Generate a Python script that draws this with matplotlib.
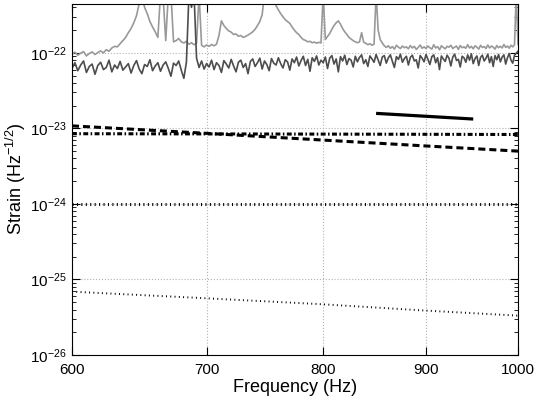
import numpy as np
import matplotlib
matplotlib.use('Agg')
import matplotlib.pyplot as plt
from matplotlib.ticker import NullLocator, FixedLocator, NullFormatter

plt.rcParams['font.family'] = ['Liberation Sans', 'DejaVu Sans']
plt.rcParams['mathtext.fontset'] = 'custom'
plt.rcParams['mathtext.rm'] = 'Liberation Sans'
plt.rcParams['mathtext.it'] = 'Liberation Sans:italic'
plt.rcParams['mathtext.bf'] = 'Liberation Sans:bold'

# frequency grid of the measured spectra (Hz)
freq = np.arange(600, 1001, 2)

# measured spectrum, dark trace (units of 1e-23 Hz^-1/2)
dark = [
    6.2, 7.4, 5.8, 6.9, 7.8, 5.5, 6.6, 7.1, 5.2, 6.8,
    7.5, 6.0, 6.4, 8.0, 5.6, 6.9, 6.2, 7.7, 5.9, 6.5,
    7.2, 5.4, 6.8, 7.9, 6.1, 5.3, 7.0, 6.6, 8.1, 5.8,
    6.7, 7.4, 5.7, 6.9, 7.6, 6.2, 4.9, 7.3, 6.8, 7.8,
    5.9, 4.6, 7.5, 60.0, 40.0, 60.0, 8.5, 6.4, 7.8, 6.1,
    7.2, 6.5, 8.0, 6.0, 7.4, 6.8, 5.5, 7.9, 7.1, 6.3,
    8.2, 6.7, 5.6, 7.5, 8.0, 6.4, 7.2, 5.3, 7.7, 8.3,
    6.6, 7.4, 8.5, 6.1, 7.8, 7.0, 5.8, 8.4, 7.3, 6.9,
    8.6, 7.2, 6.3, 8.1, 7.6, 5.9, 8.3, 7.4, 8.8, 6.7,
    7.9, 9.0, 6.8, 8.2, 5.7, 8.6, 7.7, 9.1, 6.9, 8.0,
    7.4, 8.8, 6.2, 8.5, 9.2, 7.1, 8.3, 5.6, 8.9, 7.8,
    9.3, 7.0, 8.4, 8.0, 6.5, 9.0, 7.6, 8.7, 9.4, 7.2,
    8.1, 6.6, 9.1, 8.3, 7.5, 9.5, 8.0, 6.8, 8.8, 9.2,
    7.3, 8.6, 9.4, 7.7, 6.4, 8.9, 8.2, 9.6, 7.5, 8.4,
    9.0, 6.9, 8.7, 9.3, 7.8, 8.1, 6.3, 9.2, 8.5, 7.6,
    9.5, 8.2, 7.0, 8.9, 9.4, 7.4, 8.6, 6.0, 9.1, 8.3,
    7.7, 9.3, 8.5, 6.7, 8.8, 9.6, 7.9, 8.2, 6.5, 9.0,
    8.6, 7.5, 9.4, 8.0, 9.7, 7.2, 8.4, 9.1, 6.8, 8.7,
    9.3, 7.8, 8.5, 9.6, 7.4, 8.9, 6.6, 9.2, 8.1, 9.5,
    7.6, 8.8, 9.4, 7.1, 8.6, 9.8, 8.0, 7.3, 9.3, 9.9,
    10.5,
]

# measured spectrum, light trace (units of 1e-23 Hz^-1/2)
light = [
    9.6, 10.2, 9.3, 9.9, 10.4, 9.1, 9.8, 10.3, 9.5, 10.1,
    10.6, 10.0, 11.0, 10.5, 11.6, 12.2, 12.0, 13.2, 14.5, 16.0,
    18.5, 21.0, 25.0, 31.0, 45.0, 60.0, 40.0, 33.0, 26.0, 22.0,
    19.0, 16.0, 60.0, 55.0, 14.5, 60.0, 60.0, 14.0, 14.5, 15.5,
    14.0, 13.5, 14.2, 13.0, 13.6, 12.8, 13.4, 60.0, 12.6, 12.0,
    12.7, 12.2, 12.9, 12.4, 13.0, 17.0, 26.5, 23.0, 21.0, 19.5,
    18.8, 17.5, 17.8, 16.6, 17.0, 16.0, 16.5, 17.2, 18.0, 19.0,
    20.5, 23.0, 26.0, 32.0, 60.0, 60.0, 60.0, 60.0, 50.0, 42.0,
    37.0, 33.0, 30.0, 27.5, 26.0, 24.5, 22.0, 20.0, 18.5, 17.5,
    16.0, 15.0, 14.6, 14.0, 14.2, 13.6, 13.9, 13.4, 13.8, 13.5,
    60.0, 15.0, 16.5, 18.0, 20.5, 23.0, 25.0, 26.5, 24.0, 21.0,
    19.0, 17.5, 16.0, 15.2, 14.5, 14.0, 13.6, 14.0, 18.5, 13.8,
    13.4, 12.8, 13.2, 12.6, 13.0, 60.0, 20.0, 15.0, 13.5, 12.4,
    11.8, 12.4, 11.5, 12.1, 11.2, 12.6, 11.9, 11.4, 12.3, 11.7,
    12.0, 11.3, 12.5, 11.6, 12.2, 11.1, 11.8, 12.7, 11.5, 12.0,
    11.4, 12.3, 11.7, 11.2, 12.8, 11.6, 12.1, 11.0, 12.4, 11.8,
    11.3, 12.2, 11.9, 12.6, 11.4, 11.9, 12.3, 11.1, 12.5, 11.7,
    12.0, 11.5, 12.8, 11.6, 12.2, 11.3, 12.4, 11.9, 11.2, 12.6,
    11.8, 12.1, 11.4, 12.7, 11.6, 12.3, 11.9, 11.2, 12.5, 11.7,
    12.2, 11.6, 12.9, 11.8, 12.3, 11.5, 12.6, 12.0, 12.8, 60.0,
    13.0,
]

# model curves
f_model = [600, 700, 800, 900, 1000]
dashed_curve = [1.08e-23, 8.6e-24, 7.0e-24, 5.85e-24, 5.0e-24]
dashdot_curve = [8.5e-24, 8.45e-24, 8.4e-24, 8.35e-24, 8.3e-24]
thick_dot_curve = [1e-24, 1e-24, 1e-24, 1e-24, 1e-24]
thin_dot_curve = [6.9e-26, 5.63e-26, 4.69e-26, 3.87e-26, 3.32e-26]

# solid segment
f_seg = [850, 950]
seg_curve = [1.58e-23, 1.33e-23]

xticks = [600, 700, 800, 900, 1000]
yticks = [1e-26, 1e-25, 1e-24, 1e-23, 1e-22]
yticklabels = ['$10^{-26}$', '$10^{-25}$', '$10^{-24}$', '$10^{-23}$', '$10^{-22}$']

fig = plt.figure(figsize=(5.4, 3.98), dpi=100)
ax = fig.add_axes([72/540, 43/398, 446/540, 351.5/398])

ax.plot(freq, np.array(light) * 1e-23, color='0.6', lw=1.2)
ax.plot(freq, np.array(dark) * 1e-23, color='0.3', lw=1.2)

ax.plot(f_seg, seg_curve, color='black', lw=2.3, solid_capstyle='butt')
ax.plot(f_model, dashed_curve, color='black', lw=2.2, dashes=(2.3, 1.3))
ax.plot(f_model, dashdot_curve, color='black', lw=2.2, dashes=(1.6, 0.8, 0.5, 0.8))
ax.plot(f_model, thick_dot_curve, color='black', lw=2.2, dashes=(0.35, 1.1))
ax.plot(f_model, thin_dot_curve, color='black', lw=1.4, dashes=(0.5, 1.7))

ax.set_xscale('log')
ax.set_yscale('log')
ax.set_xlim(600, 1000)
ax.set_ylim(1e-26, 4.5e-22)

ax.set_xticks(xticks)
ax.set_xticklabels([str(t) for t in xticks])
ax.xaxis.set_minor_locator(NullLocator())
ax.set_yticks(yticks)
ax.set_yticklabels(yticklabels)
minor_y = [m * 10.0**e for e in range(-26, -21) for m in range(2, 10)]
ax.yaxis.set_minor_locator(FixedLocator(minor_y))
ax.yaxis.set_minor_formatter(NullFormatter())

ax.tick_params(which='both', direction='in', top=True, right=True, labelsize=11)
ax.tick_params(which='major', length=6)
ax.tick_params(which='minor', length=3)
ax.tick_params(axis='x', pad=6)
ax.tick_params(axis='y', pad=4)

ax.grid(True, which='major', color='0.7', ls=':', lw=0.8)

ax.set_xlabel('Frequency (Hz)', fontsize=13, labelpad=1)
ax.set_ylabel('Strain (Hz$^{-1/2}$)', fontsize=13)
ax.yaxis.set_label_coords(-0.099, 0.5)

fig.savefig('out.png', dpi=100)
